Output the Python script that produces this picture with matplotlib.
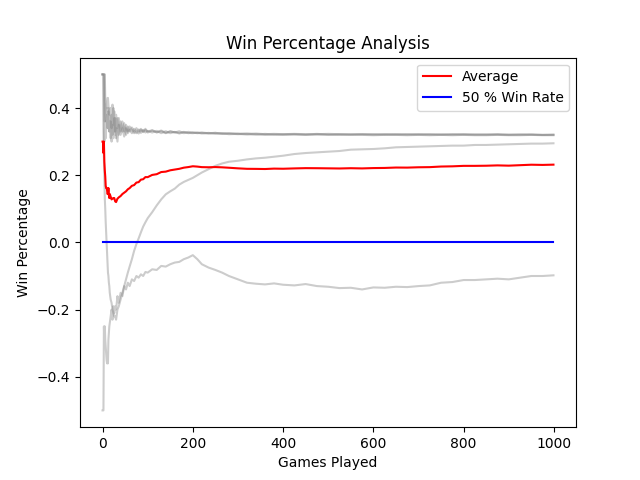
import numpy as np
import matplotlib
matplotlib.use('Agg')
import matplotlib.pyplot as plt

games = [0, 1, 2, 3, 4, 5, 6, 7, 8, 9, 10, 11, 12, 13, 14, 15, 16,
         18, 20, 22, 24, 26, 28, 30,
         33, 36, 40, 44, 48, 52, 56, 60,
         65, 70, 75, 80, 85, 90, 95, 100,
         110, 120, 130, 140, 150, 160, 170, 180, 190, 200,
         210, 220,
         235, 250, 265, 280,
         300, 320, 340, 360, 380, 400,
         425, 450, 475, 500, 525, 550, 575, 600, 625, 650, 675, 700,
         725, 750, 775, 800, 825, 850, 875, 900, 925, 950, 975, 999]

# win percentage (minus 0.5) per player
player_a = [.5, .5, .5, .5, .5, .36, .38, .40, .41, .40, .42, .43, .43, .41, .39, .38, .40,
            .40, .34, .41, .35, .39, .33, .38,
            .34, .37, .33, .36, .33, .35, .325, .345,
            .335, .325, .34, .33, .338, .328, .335, .33,
            .334, .328, .333, .326, .331, .327, .331, .325, .329, .327,
            .326, .327,
            .325, .326, .324, .325,
            .324, .323, .324, .322, .323, .322,
            .323, .322, .322, .323, .322, .321, .322, .322, .321, .322, .321, .322,
            .321, .321, .322, .321, .321, .321, .322, .321, .321, .321, .32, .321]
player_b = [.5, .5, .5, .5, .3, .33, .36, .31, .34, .36, .38, .34, .37, .39, .35, .33, .36,
            .31, .38, .32, .40, .33, .37, .31,
            .37, .32, .36, .33, .355, .32, .345, .33,
            .342, .33, .325, .336, .326, .335, .327, .332,
            .327, .332, .325, .331, .325, .329, .324, .328, .326, .325,
            .327, .324,
            .326, .323, .325, .322,
            .323, .321, .322, .32, .321, .32,
            .321, .32, .321, .32, .32, .321, .32, .319, .32, .32, .319, .32,
            .319, .32, .319, .32, .319, .319, .32, .319, .319, .32, .319, .319]
player_c = [.5, .5, .5, .5, .5, .5, .43, .38, .36, .40, .37, .34, .38, .40, .36, .33, .35,
            .36, .30, .35, .31, .37, .32, .34,
            .30, .35, .32, .34, .315, .34, .33, .335,
            .325, .338, .33, .324, .335, .33, .338, .327,
            .333, .327, .331, .325, .33, .328, .326, .329, .325, .327,
            .325, .326,
            .324, .326, .323, .324,
            .322, .324, .321, .323, .321, .322,
            .322, .321, .323, .321, .322, .321, .322, .321, .322, .321, .322, .321,
            .322, .321, .321, .322, .321, .321, .321, .32, .321, .321, .32, .32]
player_d = [.5, .5, .33, .25, .2, .13, .1, .06, .03, 0.0, -.03, -.06, -.09, -.1, -.12, -.13, -.15,
            -.17, -.18, -.2, -.21, -.22, -.22, -.23,
            -.2, -.19, -.17, -.15, -.13, -.11, -.09, -.072,
            -.05, -.025, -.005, .012, .03, .047, .06, .072,
            .09, .11, .128, .143, .152, .16, .172, .18, .186, .192,
            .2, .208,
            .218, .228, .235, .24,
            .243, .247, .25, .252, .255, .258,
            .263, .266, .268, .27, .272, .276, .277, .278, .28, .283, .284, .285,
            .286, .287, .288, .288, .29, .29, .291, .292, .293, .294, .294, .295]
player_e = [-.5, -.5, -.5, -.25, -.3, -.25, -.29, -.31, -.33, -.35, -.36, -.33, -.36, -.29, -.27, -.25, -.24,
            -.22, -.2, -.23, -.19, -.21, -.19, -.2,
            -.16, -.18, -.15, -.16, -.13, -.14, -.12, -.13,
            -.11, -.115, -.1, -.105, -.095, -.1, -.088, -.09,
            -.08, -.082, -.07, -.072, -.065, -.06, -.058, -.05, -.045, -.038,
            -.05, -.065,
            -.075, -.082, -.09, -.1,
            -.11, -.12, -.123, -.125, -.122, -.126,
            -.128, -.124, -.13, -.132, -.136, -.135, -.14, -.134, -.135, -.132, -.133, -.13,
            -.128, -.12, -.118, -.112, -.112, -.11, -.108, -.11, -.105, -.1, -.1, -.098]

win_rate_x = [0, 999]
win_rate_y = [0.0, 0.0]

players = [player_a, player_b, player_c, player_d, player_e]
average = np.mean(np.array(players), axis=0)

fig, ax = plt.subplots(figsize=(6.4, 4.8), dpi=100)
for p in players:
    ax.plot(games, p, color='gray', alpha=0.4)
ax.plot(games, average, color='red', label='Average')
ax.plot(win_rate_x, win_rate_y, color='blue', label='50 % Win Rate')

ax.set_title('Win Percentage Analysis')
ax.set_xlabel('Games Played')
ax.set_ylabel('Win Percentage')
ax.legend(loc='upper right')

fig.savefig('out.png')
